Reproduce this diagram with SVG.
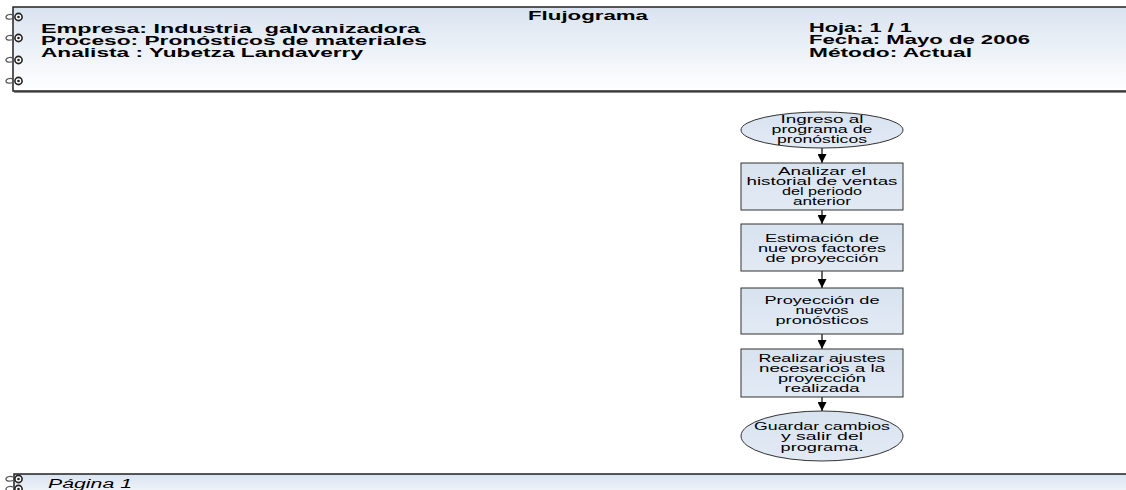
<svg xmlns="http://www.w3.org/2000/svg" xmlns:xlink="http://www.w3.org/1999/xlink" width="1126" height="490" viewBox="0 0 1126 490">
<defs>
<linearGradient id="hdr" x1="0" y1="0" x2="0" y2="1">
<stop offset="0" stop-color="#d9e3f0"/>
<stop offset="1" stop-color="#ffffff"/>
</linearGradient>
<linearGradient id="shape" x1="0" y1="0" x2="0" y2="1">
<stop offset="0" stop-color="#d8e3f0"/>
<stop offset="1" stop-color="#e2eaf4"/>
</linearGradient>
<marker id="arr" viewBox="0 0 10 10" refX="10" refY="5" markerWidth="9" markerHeight="9" markerUnits="userSpaceOnUse" orient="auto">
<path d="M0,0 L10,5 L0,10 z" fill="#000"/>
</marker>
<g id="ring">
<path d="M13,-2 C10,-3.5 5.5,-2 6,0.5 C6.5,2.5 10,2.5 13,1.5" fill="none" stroke="#555" stroke-width="1.2"/>
<circle cx="18.5" cy="0" r="3.6" fill="#fff" stroke="#222" stroke-width="1.6"/>
<circle cx="18.5" cy="0" r="1.3" fill="#222"/>
</g>
</defs>
<style>
.hd{font-family:"Liberation Sans",Arial,sans-serif;font-weight:bold;font-size:12px;fill:#000;white-space:pre}
.ft{font-family:"Liberation Sans",Arial,sans-serif;font-style:italic;font-size:12px;fill:#000}
.t{font-family:"Liberation Sans",Arial,sans-serif;font-size:11.5px;fill:#000;text-anchor:middle}
.sh{fill:url(#shape);stroke:#333;stroke-width:1}
.cn{stroke:#000;stroke-width:1.2;fill:none}
</style>
<g id="header">
<rect x="14" y="9" width="1120" height="84" fill="#888"/>
<rect x="13" y="7" width="1120" height="84" fill="url(#hdr)" stroke="#222" stroke-width="1.5"/>
<text class="hd" x="528" y="20" textLength="120" lengthAdjust="spacingAndGlyphs">Flujograma</text>
<text class="hd" x="41" y="33" textLength="379" lengthAdjust="spacingAndGlyphs">Empresa: Industria  galvanizadora</text>
<text class="hd" x="41" y="45" textLength="386" lengthAdjust="spacingAndGlyphs">Proceso: Pronósticos de materiales</text>
<text class="hd" x="41" y="57" textLength="322" lengthAdjust="spacingAndGlyphs">Analista : Yubetza Landaverry</text>
<text class="hd" x="809" y="32" textLength="103" lengthAdjust="spacingAndGlyphs">Hoja: 1 / 1</text>
<text class="hd" x="809" y="44" textLength="221" lengthAdjust="spacingAndGlyphs">Fecha: Mayo de 2006</text>
<text class="hd" x="809" y="57" textLength="163" lengthAdjust="spacingAndGlyphs">Método: Actual</text>
<use xlink:href="#ring" x="0" y="17"/>
<use xlink:href="#ring" x="0" y="38"/>
<use xlink:href="#ring" x="0" y="60"/>
<use xlink:href="#ring" x="0" y="81"/>
</g>
<g id="footer">
<rect x="14" y="474" width="1120" height="30" fill="url(#hdr)" stroke="#222" stroke-width="1.5"/>
<text class="ft" x="48" y="488" textLength="84" lengthAdjust="spacingAndGlyphs">Página 1</text>
<use xlink:href="#ring" x="0" y="479"/>
<use xlink:href="#ring" x="0" y="489"/>
</g>
<g id="connectors">
<line class="cn" x1="822" y1="148" x2="822" y2="163" marker-end="url(#arr)"/>
<line class="cn" x1="822" y1="210" x2="822" y2="224" marker-end="url(#arr)"/>
<line class="cn" x1="822" y1="271" x2="822" y2="288" marker-end="url(#arr)"/>
<line class="cn" x1="822" y1="334" x2="822" y2="349" marker-end="url(#arr)"/>
<line class="cn" x1="822" y1="397" x2="822" y2="411" marker-end="url(#arr)"/>
</g>
<g id="n1">
<ellipse class="sh" cx="822" cy="130" rx="81" ry="18"/>
<text class="t" x="822" y="123" textLength="83" lengthAdjust="spacingAndGlyphs">Ingreso al</text>
<text class="t" x="822" y="133" textLength="101" lengthAdjust="spacingAndGlyphs">programa de</text>
<text class="t" x="822" y="143" textLength="90" lengthAdjust="spacingAndGlyphs">pronósticos</text>
</g>
<g id="n2">
<rect class="sh" x="741" y="163" width="162" height="47"/>
<text class="t" x="822" y="175" textLength="88" lengthAdjust="spacingAndGlyphs">Analizar el</text>
<text class="t" x="822" y="185" textLength="151" lengthAdjust="spacingAndGlyphs">historial de ventas</text>
<text class="t" x="822" y="195" textLength="80" lengthAdjust="spacingAndGlyphs">del periodo</text>
<text class="t" x="822" y="205" textLength="58" lengthAdjust="spacingAndGlyphs">anterior</text>
</g>
<g id="n3">
<rect class="sh" x="741" y="224" width="162" height="47"/>
<text class="t" x="822" y="242" textLength="114" lengthAdjust="spacingAndGlyphs">Estimación de</text>
<text class="t" x="822" y="252" textLength="128" lengthAdjust="spacingAndGlyphs">nuevos factores</text>
<text class="t" x="822" y="262" textLength="113" lengthAdjust="spacingAndGlyphs">de proyección</text>
</g>
<g id="n4">
<rect class="sh" x="741" y="288" width="162" height="46"/>
<text class="t" x="822" y="304" textLength="115" lengthAdjust="spacingAndGlyphs">Proyección de</text>
<text class="t" x="822" y="314" textLength="53" lengthAdjust="spacingAndGlyphs">nuevos</text>
<text class="t" x="822" y="324" textLength="93" lengthAdjust="spacingAndGlyphs">pronósticos</text>
</g>
<g id="n5">
<rect class="sh" x="741" y="349" width="162" height="48"/>
<text class="t" x="822" y="362" textLength="127" lengthAdjust="spacingAndGlyphs">Realizar ajustes</text>
<text class="t" x="822" y="372" textLength="126" lengthAdjust="spacingAndGlyphs">necesarios a la</text>
<text class="t" x="822" y="382" textLength="88" lengthAdjust="spacingAndGlyphs">proyección</text>
<text class="t" x="822" y="392" textLength="75" lengthAdjust="spacingAndGlyphs">realizada</text>
</g>
<g id="n6">
<ellipse class="sh" cx="822" cy="436" rx="81" ry="25"/>
<text class="t" x="822" y="430" textLength="136" lengthAdjust="spacingAndGlyphs">Guardar cambios</text>
<text class="t" x="822" y="440" textLength="82" lengthAdjust="spacingAndGlyphs">y salir del</text>
<text class="t" x="822" y="451" textLength="83" lengthAdjust="spacingAndGlyphs">programa.</text>
</g>
</svg>
